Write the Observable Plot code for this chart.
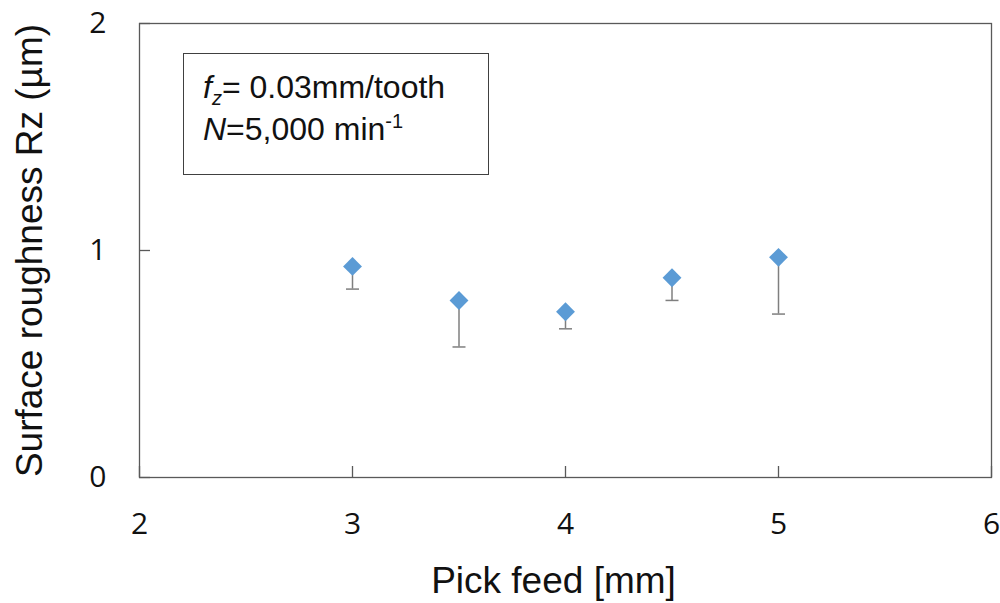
<!DOCTYPE html>
<html>
<head>
<meta charset="utf-8">
<script src="https://cdn.jsdelivr.net/npm/d3@7"></script>
<script src="https://cdn.jsdelivr.net/npm/@observablehq/plot@0.6"></script>
<style>
  html, body { margin: 0; padding: 0; background: #fff; }
  #wrap { position: relative; width: 1000px; height: 603px; font-family: "Liberation Sans", Arial, sans-serif; }
  #note { position: absolute; left: 183px; top: 53px; width: 306px; height: 122px; border: 1.3px solid #404040; box-sizing: border-box; background: #fff; color: #111; font-size: 32px; line-height: 42px; padding: 12px 0 0 19px; }
  #note sub, #note sup { font-size: 20px; line-height: 0; }
</style>
</head>
<body>
<div id="wrap"></div>
<script>
// Data
const pickFeed = [3, 3.5, 4, 4.5, 5];            // mm
const roughness = [0.93, 0.78, 0.73, 0.88, 0.97]; // Rz (µm)
const lowerBound = [0.83, 0.575, 0.655, 0.78, 0.72];
const xTicks = [2, 3, 4, 5, 6];
const yTicks = [0, 1, 2];

const data = pickFeed.map((x, i) => ({x, y: roughness[i], lo: lowerBound[i]}));

const capSymbol = {
  draw(context, size) {
    const r = 6.5;
    context.moveTo(-r, 0);
    context.lineTo(r, 0);
  }
};

const chart = Plot.plot({
  width: 1000,
  height: 603,
  marginLeft: 139,
  marginRight: 9,
  marginTop: 23,
  marginBottom: 126,
  style: {fontFamily: "'Liberation Sans', Arial, sans-serif", background: "transparent"},
  x: {domain: [2, 6]},
  y: {domain: [0, 2]},
  marks: [
    Plot.axisX(xTicks, {tickSize: 0, tickPadding: 35, fontSize: 30, fill: "#111", tickFormat: "d",
      fontFamily: "'Open Sans', sans-serif",
      label: "Pick feed [mm]", labelAnchor: "center", labelOffset: 115, labelArrow: false}),
    Plot.axisY(yTicks, {tickSize: 0, tickPadding: 33, fontSize: 30, fill: "#111", tickFormat: "d",
      fontFamily: "'Open Sans', sans-serif",
      label: "Surface roughness Rz (µm)", labelAnchor: "center", labelOffset: 124, labelArrow: false}),
    Plot.axisX(xTicks, {tickSize: -11, text: null, stroke: "#595959", strokeWidth: 1.3, label: null}),
    Plot.axisY(yTicks, {tickSize: -11, text: null, stroke: "#595959", strokeWidth: 1.3, label: null}),
    Plot.frame({stroke: "#595959", strokeWidth: 1.3}),
    Plot.ruleX(data, {x: "x", y1: "lo", y2: "y", stroke: "#7f7f7f", strokeWidth: 1.5}),
    Plot.dot(data, {x: "x", y: "lo", symbol: capSymbol, stroke: "#7f7f7f", strokeWidth: 1.5, r: 5}),
    Plot.dot(data, {x: "x", y: "y", symbol: "diamond2", r: 8.5, fill: "#5B9BD5", stroke: "none"})
  ]
});

// larger axis titles
chart.querySelectorAll("g[aria-label='x-axis label'] text, g[aria-label='y-axis label'] text").forEach(t => {
  t.setAttribute("font-size", 37);
  t.setAttribute("font-family", "'Liberation Sans', Arial, sans-serif");
  t.setAttribute("fill", "#111");
});
chart.querySelectorAll("g[aria-label='x-axis label'] text").forEach(t => t.setAttribute("dx", -12));

const wrap = document.getElementById("wrap");
wrap.appendChild(chart);
const note = document.createElement("div");
note.id = "note";
note.innerHTML = '<i>f</i><sub><i>z</i></sub>= 0.03mm/tooth<br><i>N</i>=5,000 min<sup>-1</sup>';
wrap.appendChild(note);
</script>
</body>
</html>
